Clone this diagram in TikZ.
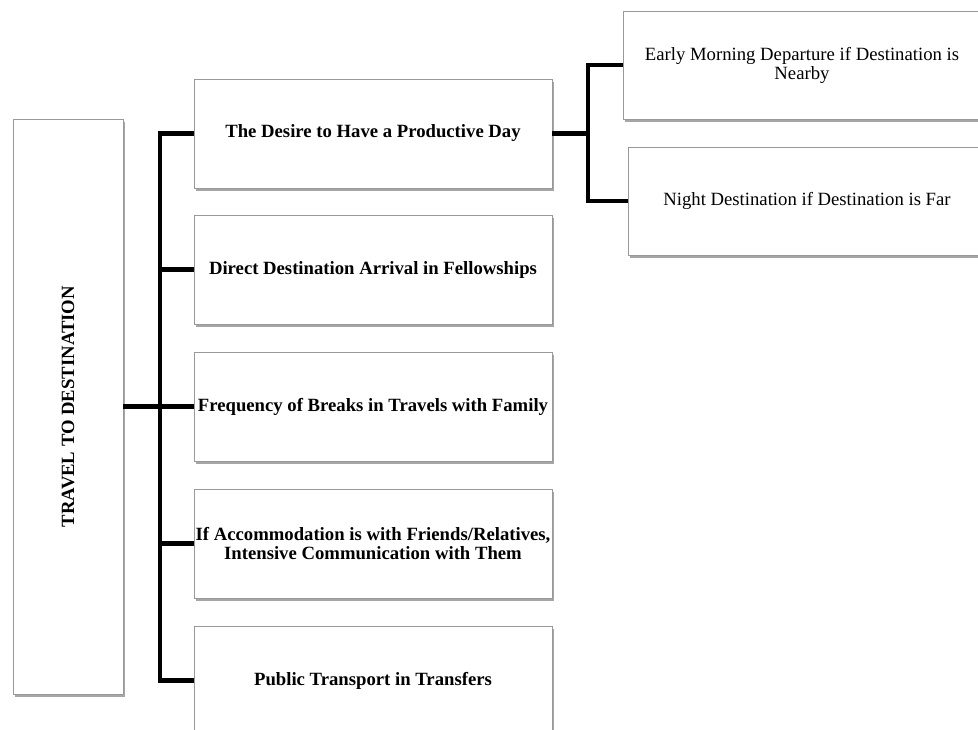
\documentclass[tikz,border=0pt]{standalone}
\usepackage{fontspec}
\setmainfont{Liberation Serif}
\usetikzlibrary{shadows}

\begin{document}
\begin{tikzpicture}[
    x=1pt, y=-1pt,
    boxbase/.style={
        draw=black!40,
        line width=0.8pt,
        fill=white,
        inner xsep=0pt,
        inner ysep=2pt,
        align=center,
        drop shadow={shadow xshift=1.5pt, shadow yshift=-2.5pt, fill=black, opacity=0.35}
    },
    rootbox/.style={
        boxbase,
        minimum width=110pt,
        minimum height=575pt
    },
    itembox/.style={
        boxbase,
        minimum width=358pt,
        minimum height=109pt,
        font=\bfseries\fontsize{18.7}{18.5}\selectfont
    },
    leafbox/.style={
        boxbase,
        minimum width=358pt,
        minimum height=108pt,
        font=\fontsize{18.7}{19}\selectfont
    },
    branch/.style={line width=4.5pt, line join=miter}
]

\useasboundingbox (0,0) rectangle (978,729);

\node[rootbox] (root) at (68, 406.5) {};
\node[rotate=90, font=\bfseries\fontsize{18.7}{18.5}\selectfont] (roottext) at (root.center) {TRAVEL TO DESTINATION};

\node[itembox] (desire) at (373, 133.5) {The Desire to Have a Productive Day};
\node[itembox] (direct) at (373, 269.5) {Direct Destination Arrival in Fellowships};
\node[itembox] (breaks) at (373, 406.5) {Frequency of Breaks in Travels with Family};
\node[itembox] (friends) at (373, 543.5) {If Accommodation is with Friends/Relatives,\\ Intensive Communication with Them};
\node[itembox] (transport) at (373, 680.5) {Public Transport in Transfers};

\node[leafbox] (morning) at (802, 65) {Early Morning Departure if Destination is\\ Nearby};
\node[leafbox] (night) at (807, 201) {Night Destination if Destination is Far};

\coordinate (trunk) at (160, 0);
\coordinate (fork) at (588, 0);

\draw[branch] (root.east) -- (trunk |- root);
\draw[branch] (desire.west) -- (trunk |- desire) -- (trunk |- transport) -- (transport.west);
\foreach \n in {direct, breaks, friends}
    \draw[branch] (trunk |- \n) -- (\n.west);

\draw[branch] (desire.east) -- (fork |- desire);
\draw[branch] (morning.west) -- (fork |- morning) -- (fork |- night) -- (night.west);

\end{tikzpicture}
\end{document}
